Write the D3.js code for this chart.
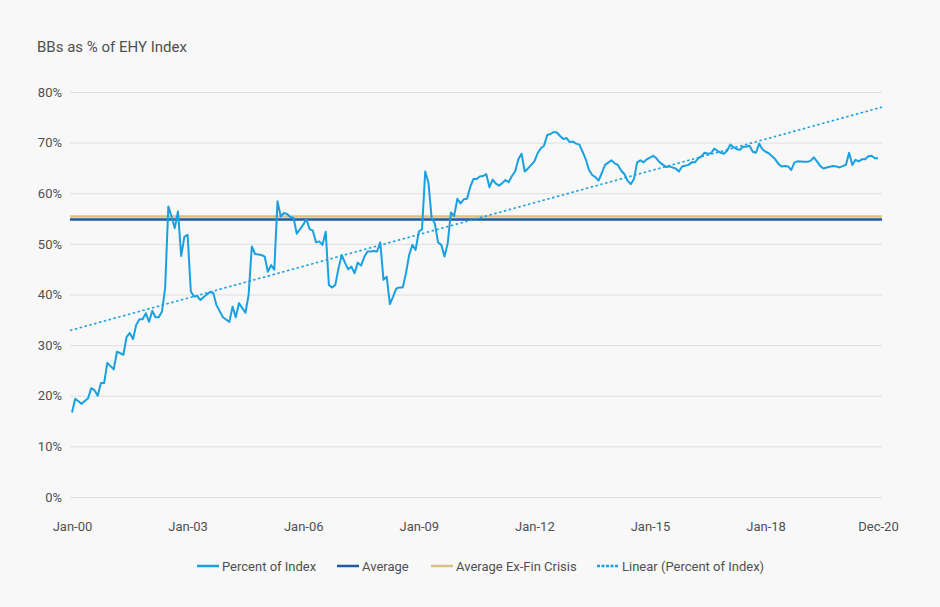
<!DOCTYPE html>
<html>
<head>
<meta charset="utf-8">
<script src="https://cdn.jsdelivr.net/npm/d3@7"></script>
<style>
  body { margin: 0; background: #f8f8f8; }
  svg { display: block; font-family: Roboto, "Noto Sans", sans-serif; }
</style>
</head>
<body>
<svg id="chart" width="940" height="607"></svg>
<script>
// months since Jan-00 and share of BBs in the index (%)
var months = [0,1,2,3,5,6,7,8,9,10,11,13,14,16,17,18,19,20,21,22,23,24,25,26,27,28,29,30,31,32,33,34,35,36,37,38,39,40,41,43,44,45,47,49,50,51,52,54,55,56,57,59,60,61,62,63,64,65,66,67,68,69,70,72,73,74,75,76,77,78,79,80,81,82,83,84,85,86,87,88,89,90,91,92,93,94,95,96,97,98,99,100,101,102,103,104,105,106,107,108,109,110,111,112,113,114,115,116,117,118,119,120,121,122,123,124,125,126,127,128,129,130,131,132,133,134,135,136,137,138,139,140,141,142,143,144,145,146,147,148,149,150,151,152,153,154,155,156,157,158,159,160,161,162,163,164,165,166,168,169,170,171,172,173,174,175,176,177,178,179,181,182,183,185,186,188,189,190,192,193,194,195,196,197,198,199,200,201,202,203,204,205,206,207,208,209,210,211,212,213,214,215,216,217,218,219,220,221,222,223,224,225,226,228,229,230,231,232,233,234,235,237,238,239,241,242,243,244,245,246,247,248,249,250,251];
var pctIndex = [16.7,19.4,18.9,18.4,19.5,21.5,21.1,20.0,22.5,22.5,26.5,25.2,28.7,28.1,31.6,32.4,31.2,34.0,35.1,35.1,36.3,34.6,36.8,35.5,35.5,36.6,41.2,57.4,55.4,53.1,56.4,47.6,51.4,51.8,40.6,39.6,39.7,38.9,39.5,40.5,40.3,37.9,35.5,34.6,37.6,35.5,38.3,36.4,39.9,49.5,48.0,47.8,47.5,44.5,45.8,44.9,58.4,55.4,56.1,55.9,55.3,55.1,52.0,53.8,54.9,52.9,52.6,50.3,50.5,49.8,52.4,41.9,41.4,41.9,45.2,47.8,46.3,45.0,45.5,44.2,46.3,45.7,47.4,48.5,48.5,48.6,48.5,50.3,42.9,43.5,38.1,39.6,41.2,41.4,41.4,44.2,47.8,49.8,48.8,52.4,52.9,64.3,62.1,55.1,54.0,50.3,49.8,47.5,50.1,56.2,55.5,58.9,58.0,58.8,58.9,61.2,62.8,62.8,63.3,63.4,63.8,61.2,62.7,61.9,61.5,62.0,62.6,62.2,63.4,64.3,66.7,67.8,64.3,64.9,65.6,66.3,67.9,68.9,69.4,71.5,71.7,72.1,72.0,71.3,70.7,70.9,70.1,70.2,69.8,69.6,68.2,66.7,64.6,63.6,63.2,62.5,64.0,65.6,66.5,65.9,65.6,64.5,63.8,62.5,61.8,62.8,66.1,66.5,66.1,66.7,67.4,66.9,66.1,65.2,65.3,64.9,64.3,65.3,65.6,66.1,66.1,66.9,67.3,68.0,67.8,67.9,68.8,68.4,68.0,67.8,68.4,69.6,69.1,68.7,68.6,69.2,69.2,69.4,68.2,68.0,69.8,68.7,68.2,67.9,67.3,66.7,65.8,65.3,65.4,65.3,64.6,66.1,66.3,66.2,66.2,66.4,67.1,66.3,65.4,64.9,65.1,65.4,65.3,65.1,65.6,68.0,65.6,66.6,66.3,66.7,66.7,67.3,67.4,66.9,66.9];

var average = 54.8;
var averageExFin = 55.4;
var trendStart = 33.0;   // linear fit at Jan-00
var trendEnd = 76.8;     // linear fit at Dec-20

var xTickMonths = [0,36,72,108,144,180,216,251];
var xTickLabels = ["Jan-00","Jan-03","Jan-06","Jan-09","Jan-12","Jan-15","Jan-18","Dec-20"];
var yTicks = [0,10,20,30,40,50,60,70,80];

var colBlue = "#1aa0e0", colNavy = "#1e5aa0", colGold = "#d9c288", colGrid = "#dedede", colText = "#505050";

var svg = d3.select("#chart");

var x = d3.scaleLinear().domain([0, 251]).range([72, 878]);
var y = d3.scaleLinear().domain([0, 80]).range([497, 92]);

// title
svg.append("text")
  .attr("x", 37).attr("y", 52)
  .style("font-size", "15px").style("fill", colText)
  .text("BBs as % of EHY Index");

// grid + y labels
var yAxis = svg.append("g")
  .attr("transform", "translate(70,0)")
  .call(d3.axisLeft(y).tickValues(yTicks).tickSize(-812).tickFormat(function(d) { return d + "%"; }));
yAxis.select(".domain").remove();
yAxis.selectAll("line").style("stroke", colGrid).style("stroke-width", 1);
yAxis.selectAll("text").attr("x", -8).style("font-size", "13px").style("fill", colText).style("font-family", "Roboto");

// x labels
var xAxis = svg.append("g")
  .attr("transform", "translate(0,497)")
  .call(d3.axisBottom(x).tickValues(xTickMonths).tickSize(0).tickFormat(function(d, i) { return xTickLabels[i]; }));
xAxis.select(".domain").remove();
xAxis.selectAll("text").attr("y", 25).style("font-size", "13px").style("fill", colText).style("font-family", "Roboto");

// average lines
svg.append("line")
  .attr("x1", 70).attr("x2", 882)
  .attr("y1", y(averageExFin)).attr("y2", y(averageExFin))
  .style("stroke", colGold).style("stroke-width", 2.5);
svg.append("line")
  .attr("x1", 70).attr("x2", 882)
  .attr("y1", y(average)).attr("y2", y(average))
  .style("stroke", colNavy).style("stroke-width", 2.5);

// trend
var trend = d3.scaleLinear().domain([0, 251]).range([trendStart, trendEnd]);
svg.append("line")
  .attr("x1", 70).attr("x2", 882)
  .attr("y1", y(trend(x.invert(70)))).attr("y2", y(trend(x.invert(882))))
  .style("stroke", colBlue).style("stroke-width", 1.6).style("stroke-dasharray", "2.5,2.5");

// main series
var series = months.map(function(m, i) { return [m, pctIndex[i]]; });
var line = d3.line()
  .x(function(d) { return x(d[0]); })
  .y(function(d) { return y(d[1]); });
svg.append("path")
  .datum(series)
  .attr("d", line)
  .style("fill", "none")
  .style("stroke", colBlue)
  .style("stroke-width", 2)
  .style("stroke-linejoin", "round");

// legend
var legend = [
  { name: "Percent of Index", color: colBlue, x: 197, dash: null },
  { name: "Average", color: colNavy, x: 337, dash: null },
  { name: "Average Ex-Fin Crisis", color: colGold, x: 431, dash: null },
  { name: "Linear (Percent of Index)", color: colBlue, x: 597, dash: "3,1.5" }
];
var lg = svg.append("g").attr("transform", "translate(0,566)");
legend.forEach(function(d) {
  lg.append("line")
    .attr("x1", d.x).attr("x2", d.x + 22)
    .attr("y1", 0).attr("y2", 0)
    .style("stroke", d.color).style("stroke-width", 2.5)
    .style("stroke-dasharray", d.dash);
  lg.append("text")
    .attr("x", d.x + 25).attr("y", 4.5)
    .style("font-size", "13px").style("fill", colText)
    .text(d.name);
});
</script>
</body>
</html>
